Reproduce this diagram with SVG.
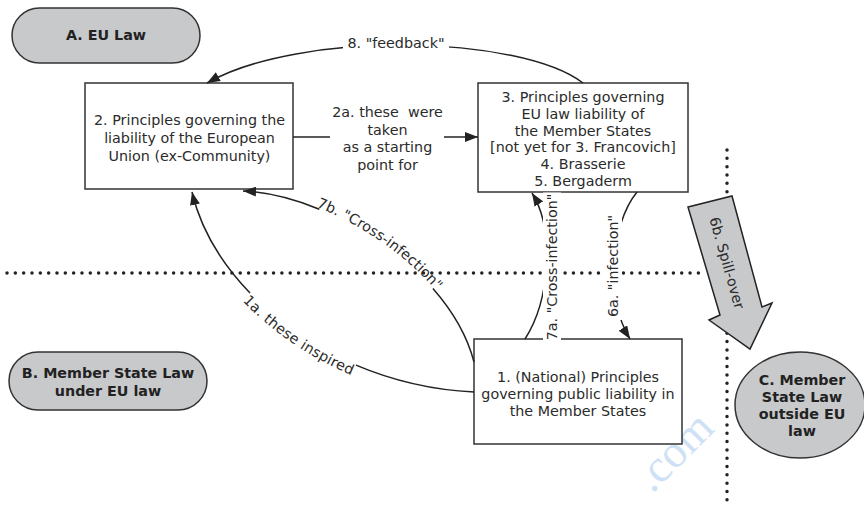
<svg xmlns="http://www.w3.org/2000/svg" width="864" height="506" viewBox="0 0 864 506">
<style>
.box{fill:#fff;stroke:#333;stroke-width:1.5}
.pill{fill:#c8c9cb;stroke:#333;stroke-width:1.5}
.t{font-family:"DejaVu Sans",Verdana,sans-serif;font-size:14.3px;fill:#2b2b2b;text-anchor:middle}
.b{font-weight:bold;fill:#222}
.conn{fill:none;stroke:#222;stroke-width:1.5}
.dot{fill:none;stroke:#222;stroke-width:3.5;stroke-linecap:round;stroke-dasharray:0 8.33}
.bg{fill:#fff}
</style>
<defs>
<marker id="ah" markerUnits="userSpaceOnUse" viewBox="0 0 13 10" refX="13" refY="5" markerWidth="13" markerHeight="10" orient="auto-start-reverse"><path d="M0,0 L13,5 L0,10 z" fill="#222"/></marker>
<path id="p1a" d="M192 192 C215 290 330 385 474 392"/>
<path id="p7b" d="M243 191 C330 195 450 270 474 362"/>
</defs>

<g id="watermark"><text x="0" y="0" transform="translate(684,462) rotate(-45)" style="font-family:'Liberation Serif',serif;font-size:46px;fill:#a9c9ee;opacity:0.55;text-anchor:middle">.com</text></g>

<g id="dividers">
<line class="dot" x1="7" y1="273" x2="702" y2="273"/>
<line class="dot" x1="727" y1="150" x2="727" y2="506"/>
</g>

<g id="nodeA"><rect class="pill" x="12" y="8" width="188" height="55" rx="27.5"/><text class="t b" x="106" y="40">A. EU Law</text></g>
<g id="nodeB"><rect class="pill" x="9" y="352" width="198" height="58" rx="29"/><text class="t b" x="108" y="378">B. Member State Law</text><text class="t b" x="108" y="396">under EU law</text></g>
<g id="nodeC"><ellipse class="pill" cx="800" cy="405" rx="65" ry="53"/><text class="t b" x="802" y="385">C. Member</text><text class="t b" x="802" y="402">State Law</text><text class="t b" x="802" y="419">outside EU</text><text class="t b" x="802" y="436">law</text></g>

<g id="node2"><rect class="box" x="85" y="83" width="208" height="106"/><text class="t" x="189.5" y="125">2. Principles governing the</text><text class="t" x="189.5" y="143">liability of the European</text><text class="t" x="189.5" y="161">Union (ex-Community)</text></g>
<g id="node3"><rect class="box" x="478" y="83" width="210" height="109"/><text class="t" x="583" y="102">3. Principles governing</text><text class="t" x="583" y="118.8">EU law liability of</text><text class="t" x="583" y="135.6">the Member States</text><text class="t" x="583" y="152.4">[not yet for 3. Francovich]</text><text class="t" x="583" y="169.2">4. Brasserie</text><text class="t" x="583" y="186">5. Bergaderm</text></g>
<g id="node1"><rect class="box" x="474" y="339" width="208" height="105"/><text class="t" x="578" y="382">1. (National) Principles</text><text class="t" x="578" y="399">governing public liability in</text><text class="t" x="578" y="416">the Member States</text></g>

<g id="connectors">
<path class="conn" d="M583 83 C520 35 300 30 207 83" marker-end="url(#ah)"/>
<path class="conn" d="M293 137 H330"/>
<path class="conn" d="M444 137 H478" marker-end="url(#ah)"/>
<path class="conn" d="M192 192 C215 290 330 385 474 392" pathLength="100" stroke-dasharray="32 35 100" marker-start="url(#ah)"/>
<path class="conn" d="M243 191 C330 195 450 270 474 362" pathLength="100" stroke-dasharray="26 46 100" marker-start="url(#ah)"/>
<path class="conn" d="M525 339 C550 300 555 230 532 193" marker-end="url(#ah)"/>
<path class="conn" d="M637 192 C610 225 605 300 630 339" marker-end="url(#ah)"/>
<polygon points="688,207 732,196 762,307 772,303 750,349 709,320 720,315" style="fill:#c8c9cb;stroke:#222;stroke-width:1.5;stroke-linejoin:miter"/>
</g>

<g id="labels">
<rect class="bg" x="343" y="34" width="106" height="19"/>
<text class="t" x="396" y="48">8. "feedback"</text>
<text class="t" x="387.5" y="117" style="white-space:pre">2a. these  were</text>
<text class="t" x="387.5" y="134.5">taken</text>
<text class="t" x="387.5" y="152">as a starting</text>
<text class="t" x="387.5" y="169.5">point for</text>
<text class="t" dy="11"><textPath href="#p1a" startOffset="49.5%">1a. these inspired</textPath></text>
<text class="t" dy="-1"><textPath href="#p7b" startOffset="49%">7b. "Cross-infection"</textPath></text>
<rect class="bg" x="543" y="192.5" width="18" height="150"/>
<text class="t" transform="translate(552,267) rotate(-90)" x="0" y="5">7a. "Cross-infection"</text>
<rect class="bg" x="604" y="213" width="18" height="107"/>
<text class="t" transform="translate(613,266) rotate(-90)" x="0" y="5">6a. "infection"</text>
<text class="t" transform="translate(727,263) rotate(74.2)" x="0" y="5">6b. Spill-over</text>
</g>
</svg>
